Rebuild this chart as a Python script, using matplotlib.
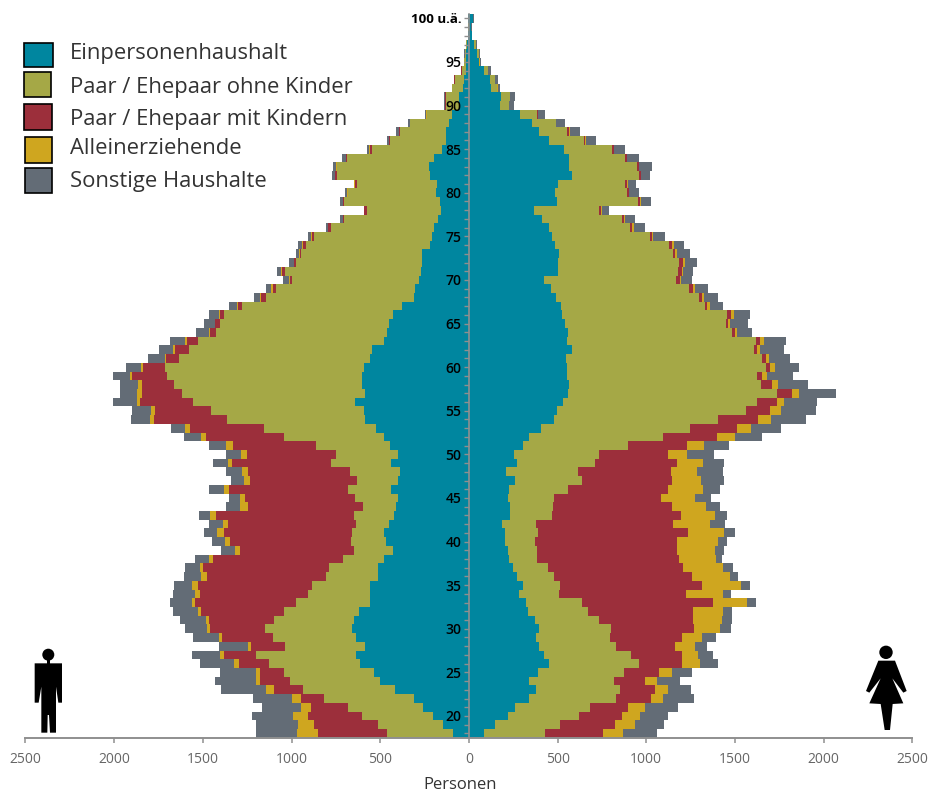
import numpy as np
import matplotlib
matplotlib.use("Agg")
import matplotlib.pyplot as plt
from matplotlib.patches import Rectangle, Polygon, Circle

plt.rcParams['font.family'] = ['Open Sans', 'DejaVu Sans']

ages = list(range(18, 101))
categories = ["Einpersonenhaushalt", "Paar / Ehepaar ohne Kinder", "Paar / Ehepaar mit Kindern",
              "Alleinerziehende", "Sonstige Haushalte"]
colors = ["#00869F", "#A5A846", "#9C2F3B", "#CFA61F", "#636C76"]

# Outer edge of each stacked household type, per age 18 .. 100 (persons)
m_single = [90,147,205,256,312,414,500,534,613,635,587,637,658,647,622,556,555,555,515,515,481,430,466,481,451,423,410,397,440,402,391,440,399,444,481,521,587,594,643,587,603,600,594,556,545,478,459,449,429,376,310,303,282,271,265,265,218,207,196,173,156,165,186,179,218,224,199,149,130,130,111,94,53,53,32,30,19,15,15,9,3,2,3]
m_couple = [459,510,603,680,816,936,1008,1045,1128,1203,1038,1102,1149,1098,1045,974,908,882,806,790,709,649,664,658,635,650,598,641,679,632,673,775,752,863,1043,1158,1365,1455,1553,1619,1662,1700,1713,1637,1577,1527,1425,1402,1382,1282,1145,1085,998,1036,974,944,921,872,778,705,573,703,680,630,746,741,686,547,444,391,331,237,130,130,94,81,41,26,23,17,5,3,5]
m_kids   = [853,876,908,889,947,1098,1179,1179,1297,1380,1226,1393,1459,1465,1510,1542,1515,1528,1478,1500,1442,1290,1348,1380,1361,1425,1243,1265,1355,1233,1243,1335,1250,1331,1485,1572,1775,1769,1854,1844,1842,1897,1837,1709,1656,1587,1459,1431,1404,1303,1171,1105,1010,1053,985,955,936,887,793,708,590,711,684,645,754,746,692,560,451,393,333,239,132,132,95,82,43,27,24,18,5,3,5]
m_lone   = [970,964,989,944,996,1143,1199,1199,1325,1402,1246,1408,1478,1485,1530,1564,1543,1562,1510,1517,1466,1320,1376,1419,1387,1459,1290,1293,1382,1269,1282,1357,1286,1371,1510,1598,1799,1795,1874,1869,1865,1912,1846,1715,1669,1598,1463,1434,1408,1307,1177,1113,1013,1057,987,957,940,891,797,710,591,712,685,646,755,747,693,561,452,394,334,240,133,133,96,83,44,28,24,18,5,3,5]
m_other  = [1201,1201,1222,1167,1220,1399,1431,1404,1517,1564,1410,1555,1602,1630,1669,1684,1666,1660,1607,1598,1545,1395,1449,1495,1464,1523,1370,1355,1464,1344,1369,1444,1369,1466,1609,1679,1906,1901,2006,1970,1968,2006,1935,1807,1745,1686,1540,1495,1463,1354,1213,1145,1049,1083,1015,976,964,908,806,727,594,729,697,647,773,769,716,573,461,410,344,250,141,141,98,85,47,30,25,19,6,4,6]

f_single = [85,149,220,259,337,376,338,391,451,421,395,376,393,370,333,321,282,303,271,246,226,220,203,203,188,229,229,220,227,258,211,269,256,306,338,404,478,498,528,560,562,553,555,547,583,551,556,540,523,521,489,464,423,500,502,509,483,466,449,410,368,498,483,504,579,564,562,534,453,395,357,290,177,180,126,117,86,56,43,26,15,13,23]
f_couple = [427,515,620,682,827,852,816,872,957,916,831,793,799,733,669,639,508,511,479,446,384,385,372,389,380,466,474,478,558,639,617,713,733,899,1094,1248,1404,1560,1626,1739,1647,1622,1673,1651,1609,1617,1481,1450,1457,1329,1299,1241,1169,1181,1182,1150,1128,1021,906,865,735,951,893,880,961,947,880,808,647,555,489,383,224,231,160,147,107,58,56,38,17,14,24]
f_kids   = [756,823,863,897,1025,1051,991,1070,1203,1203,1160,1203,1269,1265,1261,1376,1226,1312,1258,1209,1186,1173,1171,1237,1152,1196,1145,1081,1122,1147,1137,1175,1120,1230,1401,1510,1628,1700,1735,1820,1709,1654,1698,1673,1624,1643,1502,1463,1478,1344,1314,1263,1188,1201,1209,1162,1145,1032,921,876,743,964,900,893,970,959,891,816,656,566,491,387,226,233,161,148,108,59,56,39,18,14,24]
f_lone   = [870,934,964,991,1094,1122,1058,1145,1301,1292,1273,1316,1416,1425,1434,1570,1434,1536,1472,1434,1393,1389,1404,1440,1361,1386,1335,1273,1320,1307,1284,1320,1228,1327,1502,1589,1701,1758,1775,1863,1741,1679,1724,1690,1639,1664,1513,1472,1493,1357,1324,1276,1197,1209,1216,1171,1154,1040,931,882,748,969,903,896,972,961,893,818,658,568,492,388,227,234,162,149,109,60,57,40,18,14,25]
f_other  = [1060,1098,1120,1177,1271,1252,1188,1256,1404,1378,1342,1395,1478,1481,1485,1619,1476,1583,1517,1487,1427,1436,1453,1502,1446,1457,1416,1365,1414,1436,1433,1436,1380,1466,1653,1760,1903,1957,1963,2070,1914,1827,1861,1812,1777,1788,1598,1572,1583,1434,1406,1348,1256,1263,1288,1248,1211,1107,993,934,791,1026,957,944,1021,1030,959,882,716,624,540,429,254,258,177,165,124,71,62,45,19,15,26]

male_edges = [m_single, m_couple, m_kids, m_lone, m_other]
female_edges = [f_single, f_couple, f_kids, f_lone, f_other]

W, H = 929, 794
fig = plt.figure(figsize=(W / 100, H / 100), dpi=100)
ax = fig.add_axes([25.5 / W, 1 - 737.75 / H, (912.3 - 25.5) / W, (737.75 - 14) / H])

for side, edges in ((-1, male_edges), (1, female_edges)):
    prev = np.zeros(len(ages))
    for name, col, e in zip(categories, colors, edges):
        e = np.array(e, dtype=float)
        ax.barh(ages, side * (e - prev), left=side * prev, height=1.0, color=col,
                linewidth=0, zorder=2)
        prev = e

ax.set_xlim(-2500, 2500)
ax.set_ylim(17.5, 100.5)
for s in ("top", "right"):
    ax.spines[s].set_visible(False)
ax.spines["left"].set_position(("data", 0))
ax.spines["left"].set_color("#8f8f8f")
ax.spines["left"].set_zorder(4)
ax.spines["left"].set_linewidth(1.2)
ax.spines["bottom"].set_color("#8f8f8f")
ax.spines["bottom"].set_linewidth(1.4)
ax.set_axisbelow(False)

xt = np.arange(-2500, 2501, 500)
ax.set_xticks(xt)
ax.set_xticklabels([str(abs(v)) for v in xt], fontsize=10, color="#666666")
ax.tick_params(axis="x", length=3.5, width=1.1, color="#8f8f8f", pad=7)

major = list(range(20, 100, 5)) + [100]
ax.set_yticks(major)
ax.set_yticklabels([str(v) if v < 100 else "100 u.ä." for v in major],
                   fontsize=10, color="black", fontweight="semibold")
for lab in ax.get_yticklabels()[-1:]:
    lab.set_fontweight("bold")
    lab.set_fontsize(9.6)
ax.set_yticks(ages, minor=True)
ax.tick_params(axis="y", which="both", length=3.5, width=1.0, color="#8f8f8f", pad=1.8)
ax.set_xlabel("Personen", fontsize=12, color="#333333")
ax.xaxis.set_label_coords(460 / 886.8 - 25.5 / 886.8, -47.5 / 723.75, transform=ax.transAxes)
ax.xaxis.label.set_va("center")
ax.patch.set_alpha(0)


def P(x, y):
    return (x / W, 1 - y / H)


# Legend
boxes = [(24, 43, 53, 67), (24, 72, 51, 97), (24, 104, 52, 130), (25, 137, 52, 163), (25, 168, 52, 193)]
text_y = [54, 87, 120, 149, 181]
for (x0, y0, x1, y1), col, name, ty in zip(boxes, colors, categories, text_y):
    fig.add_artist(Rectangle(P(x0, y1), (x1 - x0) / W, (y1 - y0) / H, transform=fig.transFigure,
                             facecolor=col, edgecolor="black", linewidth=1.2))
    fig.text(70 / W, 1 - ty / H, name, fontsize=15.8, color="#333333", va="center", ha="left")


def aspect_circle(cx, cy, r):
    fig.add_artist(Circle((cx, H - cy), r, transform=None, facecolor="black", edgecolor="none"))


# Man icon
man = [(104,400),(186,400),(186,518),(175,518),(168,470),(168,608),(150,608),(147,555),(143,555),(142,608),
       (124,608),(124,470),(116,518),(104,518)]
fig.add_artist(Polygon([P(x / 3, 530 + y / 3) for x, y in man], closed=True, transform=fig.transFigure,
                       facecolor="black", edgecolor="none"))
fig.add_artist(Polygon([P(x / 3, 530 + y / 3) for x, y in [(140,385),(150,385),(150,402),(140,402)]],
                       closed=True, transform=fig.transFigure, facecolor="black", edgecolor="none"))
aspect_circle(48.3, 654.7, 6)

# Woman icon
woman = [(1255,392),(1305,392),(1340,483),(1330,488),(1297,445),(1330,520),(1298,522),(1290,600),(1274,600),
         (1262,522),(1228,520),(1262,445),(1228,488),(1218,483)]
fig.add_artist(Polygon([P(460 + x / 3, 530 + y / 3) for x, y in woman], closed=True, transform=fig.transFigure,
                       facecolor="black", edgecolor="none"))
aspect_circle(460 + 1278 / 3, 530 + 367 / 3, 6.7)

fig.savefig("out.png", dpi=100)
